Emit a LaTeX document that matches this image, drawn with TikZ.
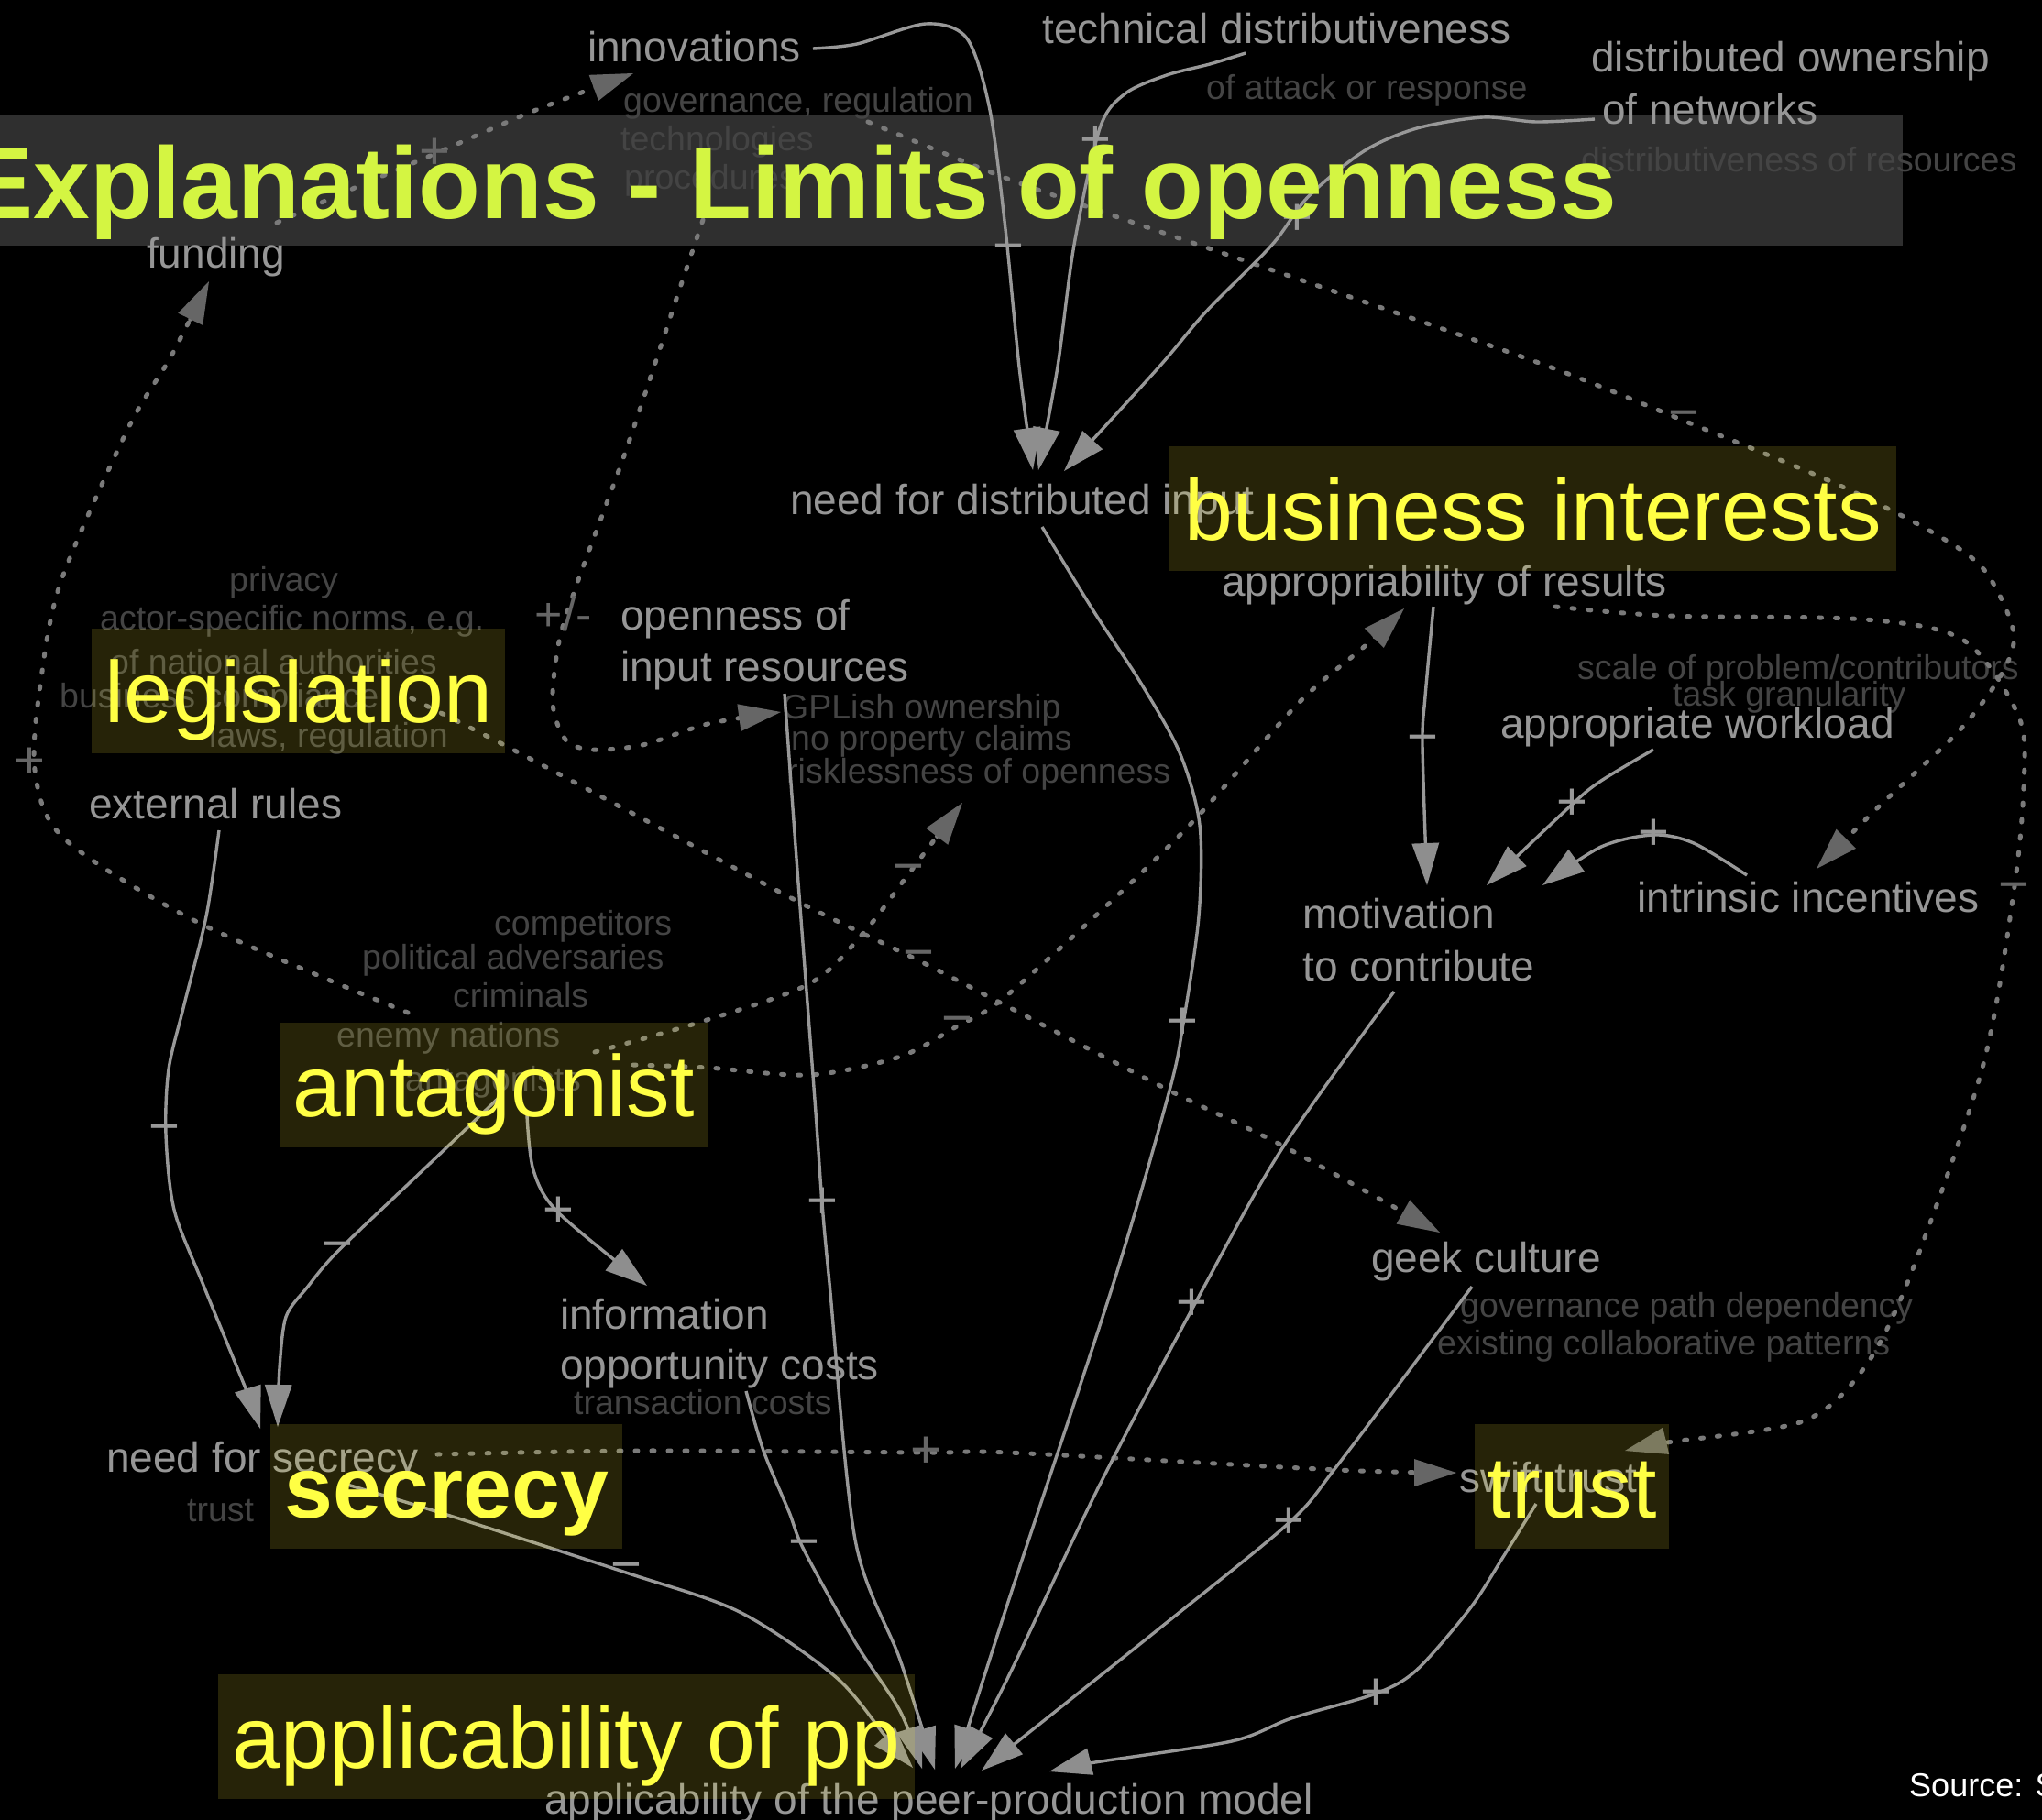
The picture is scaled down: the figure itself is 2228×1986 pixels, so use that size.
\documentclass[tikz,border=0pt]{standalone}
\usepackage{fontspec}
\setmainfont{Liberation Sans}
\usetikzlibrary{arrows.meta}
\definecolor{bandgray}{RGB}{47,47,47}
\definecolor{titlecol}{RGB}{212,245,66}
\definecolor{labelyellow}{RGB}{255,255,68}
\definecolor{boxyellow}{RGB}{255,240,60}
\definecolor{maingray}{RGB}{150,150,150}
\definecolor{notegray}{RGB}{68,68,68}
\definecolor{solidgray}{RGB}{152,152,152}
\definecolor{tipgray}{RGB}{142,142,142}
\definecolor{dashgray}{RGB}{122,122,122}
\definecolor{dashtip}{RGB}{102,102,102}
\begin{document}
\begin{tikzpicture}[x=1pt,y=-1pt,
  mainlbl/.style={anchor=base west, inner sep=0pt, text=maingray, font=\fontsize{46}{55}\selectfont},
  notelbl/.style={anchor=base west, inner sep=0pt, text=notegray, font=\fontsize{37.5}{45}\selectfont},
  bigbox/.style={anchor=base west, fill=boxyellow, fill opacity=0.15, text opacity=1, text=labelyellow, font=\fontsize{95}{110}\selectfont, text height=87pt, text depth=19pt, inner xsep=0pt, inner ysep=15pt},
  sline/.style={draw=solidgray, line width=3.4pt, -{Triangle[length=46pt,width=30pt,color=tipgray,line width=0pt]}},
  dline/.style={draw=dashgray, line width=5pt, line cap=round, dash pattern=on 3pt off 15pt, -{Triangle[length=46pt,width=30pt,color=dashtip,line width=0pt]}},
  smark/.style={inner sep=0pt, text=solidgray, font=\fontsize{58}{60}\selectfont},
  dmark/.style={inner sep=0pt, text=dashtip, font=\fontsize{58}{60}\selectfont},
]
\useasboundingbox (0,0) rectangle (2228,1986);
\fill[black] (0,0) rectangle (2228,1986);
\path[fill=bandgray] (0,125) rectangle (2076,268);

% ---------- notes ----------
\node[notelbl] (n-gov) at (680,122) {governance, regulation};
\node[notelbl] (n-tech) at (677,164) {technologies};
\node[notelbl] (n-proc) at (681,206) {procedures};
\node[notelbl] (n-attack) at (1316,108) {of attack or response};
\node[notelbl] (n-distres) at (1725,187) {distributiveness of resources};
\node[notelbl] (n-priv) at (250,645) {privacy};
\node[notelbl] (n-actor) at (109,687) {actor-specific norms, e.g.};
\node[notelbl] (n-natl) at (120,735) {of national authorities};
\node[notelbl] (n-busc) at (65,772) {business compliance};
\node[notelbl] (n-laws) at (228,815) {laws, regulation};
\node[notelbl] (n-gpl) at (853,784) {GPLish ownership};
\node[notelbl] (n-noprop) at (863,818) {no property claims};
\node[notelbl] (n-risk) at (858,854) {risklessness of openness};
\node[notelbl] (n-scale) at (1721,741) {scale of problem/contributors};
\node[notelbl] (n-task) at (1825,770) {task granularity};
\node[notelbl] (n-comp) at (539,1020) {competitors};
\node[notelbl] (n-pol) at (395,1057) {political adversaries};
\node[notelbl] (n-crim) at (494,1099) {criminals};
\node[notelbl] (n-enemy) at (367,1142) {enemy nations};
\node[notelbl] (n-antags) at (442,1190) {antagonists};
\node[notelbl] (n-govpath) at (1593,1437) {governance path dependency};
\node[notelbl] (n-exist) at (1568,1478) {existing collaborative patterns};
\node[notelbl] (n-trans) at (626,1543) {transaction costs};
\node[notelbl] (n-trust) at (204,1660) {trust};

% ---------- main gray nodes ----------
\node[mainlbl] (innovations) at (641,67) {innovations};
\node[mainlbl] (techdist) at (1137,47) {technical distributiveness};
\node[mainlbl] (distown1) at (1736,78) {distributed ownership};
\node[mainlbl] (distown2) at (1748,135) {of networks};
\node[mainlbl] (needdist) at (862,561) {need for distributed input};
\node[mainlbl] (open1) at (677,687) {openness of};
\node[mainlbl] (open2) at (677,743) {input resources};
\node[mainlbl] (approp) at (1333,650) {appropriability of results};
\node[mainlbl] (workload) at (1637,805) {appropriate workload};
\node[mainlbl] (intrinsic) at (1786,995) {intrinsic incentives};
\node[mainlbl] (motiv1) at (1421,1013) {motivation};
\node[mainlbl] (motiv2) at (1421,1070) {to contribute};
\node[mainlbl] (funding) at (160,292) {funding};
\node[mainlbl] (extrules) at (97,893) {external rules};
\node[mainlbl] (geek) at (1496,1388) {geek culture};
\node[mainlbl] (info1) at (611,1450) {information};
\node[mainlbl] (info2) at (611,1505) {opportunity costs};
\node[mainlbl] (needsec) at (116,1606) {need for secrecy};
\node[mainlbl] (swift) at (1592,1628) {swift trust};
\node[mainlbl] (applic) at (594,1979) {applicability of the peer-production model};

% ---------- connector end points ----------
\coordinate (innovations-out) at (887,53);
\coordinate (need-in1) at (1127,513);
\coordinate (tech-out) at (1359,58);
\coordinate (need-in2) at (1133,513);
\coordinate (own-out) at (1740,130);
\coordinate (need-in3) at (1161,514);
\coordinate (need-out) at (1137,575);
\coordinate (app-in4) at (1042,1930);
\coordinate (open-out) at (856,757);
\coordinate (app-in3) at (1020,1931);
\coordinate (info-out) at (814,1518);
\coordinate (app-in2) at (1006,1930);
\coordinate (secrecy-out) at (379,1620);
\coordinate (app-in1) at (996,1929);
\coordinate (motiv-out) at (1521,1082);
\coordinate (app-in5) at (1048,1930);
\coordinate (geek-out) at (1606,1404);
\coordinate (app-in6) at (1071,1932);
\coordinate (trust-out) at (1676,1641);
\coordinate (app-in7) at (1145,1933);
\coordinate (ext-out) at (239,906);
\coordinate (nfs-in1) at (284,1559);
\coordinate (antag-out1) at (544,1198);
\coordinate (nfs-in2) at (303,1557);
\coordinate (antag-out2) at (575,1217);
\coordinate (info-in) at (706,1403);
\coordinate (approp-out) at (1564,662);
\coordinate (motiv-in1) at (1557,966);
\coordinate (work-out) at (1804,818);
\coordinate (motiv-in2) at (1622,966);
\coordinate (intr-out) at (1906,955);
\coordinate (motiv-in3) at (1683,966);
\coordinate (funding-out) at (302,243);
\coordinate (innovations-in) at (691,80);
\coordinate (antag-out3) at (445,1105);
\coordinate (funding-in) at (228,307);
\coordinate (antag-out4) at (649,1148);
\coordinate (open-in2) at (1050,876);
\coordinate (antag-out5) at (691,1162);
\coordinate (approp-in) at (1532,664);
\coordinate (legis-out) at (449,762);
\coordinate (geek-in) at (1571,1345);
\coordinate (govnotes-out) at (947,133);
\coordinate (intr-in) at (1982,948);
\coordinate (approp-out2) at (1697,662);
\coordinate (swift-in1) at (1773,1583);
\coordinate (nfs-out) at (477,1587);
\coordinate (swift-in2) at (1589,1607);
\coordinate (proc-out) at (767,240);
\coordinate (open-in) at (852,777);

% ---------- dashed connectors ----------
\draw[dline] plot[smooth] coordinates {(funding-out) (380,208) (474,168) (580,122) (innovations-in)};
\draw[dline] plot[smooth] coordinates {(antag-out3) (217,1007) (70,915) (38,840) (45,740) (67,633) (140,467) (186,390) (funding-in)};
\draw[dline] plot[smooth] coordinates {(antag-out4) (765,1115) (884,1073) (943,1017) (991,954) (open-in2)};
\draw[dline] plot[smooth] coordinates {(antag-out5) (772,1165) (884,1173) (982,1153) (1044,1120) (1094,1090) (1213,983) (1303,895) (1417,767) (1488,706) (approp-in)};
\draw[dline] plot[smooth] coordinates {(legis-out) (554,815) (708,897) (877,987) (1002,1048) (1091,1094) (1276,1190) (1399,1250) (geek-in)};
\draw[dline] plot[smooth] coordinates {(govnotes-out) (1094,193) (1208,233) (1450,316) (1690,400) (1837,459) (1999,526) (2107,580) (2165,622) (2197,690) (2183,737) (2137,798) (2050,880) (intr-in)};
\draw[dline] plot[smooth] coordinates {(approp-out2) (1819,672) (2035,676) (2143,699) (2203,783) (2208,859) (2197,974) (2163,1165) (2083,1395) (2033,1494) (1967,1551) (1819,1574) (swift-in1)};
\draw[dline] plot[smooth] coordinates {(nfs-out) (700,1583) (1010,1585) (1100,1585) (1460,1604) (swift-in2)};
\draw[dline] plot[smooth] coordinates {(proc-out) (740,320) (716,393) (680,500) (631,633) (610,700) (603,767) (617,807) (645,818) (701,813) (772,790) (open-in)};

% ---------- solid connectors ----------
\draw[sline] plot[smooth] coordinates {(innovations-out) (935,48) (1010,26) (1055,42) (1080,120) (1097,250) (1112,400) (need-in1)};
\draw[sline] plot[smooth] coordinates {(tech-out) (1320,70) (1273,82) (1228,102) (1200,140) (1172,267) (1154,400) (need-in2)};
\draw[sline] plot[smooth] coordinates {(own-out) (1676,133) (1618,128) (1546,140) (1488,165) (1427,215) (1388,267) (1316,340) (1265,400) (need-in3)};
\draw[sline] plot[smooth] coordinates {(need-out) (1194,668) (1244,744) (1287,821) (1309,900) (1308,1000) (1291,1117) (1276,1190) (1215,1400) (1100,1748) (app-in4)};
\draw[sline] plot[smooth] coordinates {(open-out) (870,950) (889,1200) (897,1313) (905,1400) (933,1680) (982,1811) (app-in3)};
\draw[sline] plot[smooth] coordinates {(info-out) (833,1583) (861,1650) (877,1691) (933,1792) (982,1867) (app-in2)};
\draw[sline] plot[smooth] coordinates {(secrecy-out) (491,1654) (683,1716) (807,1759) (912,1830) (968,1897) (app-in1)};
\draw[sline] plot[smooth] coordinates {(motiv-out) (1399,1253) (1316,1400) (1200,1620) (1100,1830) (app-in5)};
\draw[sline] plot[smooth] coordinates {(geek-out) (1460,1598) (1406,1662) (1265,1777) (1107,1903) (app-in6)};
\draw[sline] plot[smooth] coordinates {(trust-out) (1640,1699) (1604,1755) (1546,1822) (1501,1848) (1409,1875) (1344,1900) (1195,1923) (app-in7)};
\draw[sline] plot[smooth] coordinates {(ext-out) (225,1000) (200,1100) (184,1167) (181,1238) (190,1320) (221,1400) (270,1520) (nfs-in1)};
\draw[sline] plot[smooth] coordinates {(antag-out1) (456,1282) (368,1366) (335,1405) (312,1437) (305,1493) (nfs-in2)};
\draw[sline] plot[smooth] coordinates {(antag-out2) (582,1277) (609,1323) (info-in)};
\draw[sline] plot[smooth] coordinates {(approp-out) (1555,760) (1552,813) (motiv-in1)};
\draw[sline] plot[smooth] coordinates {(work-out) (1747,852) (1715,878) (motiv-in2)};
\draw[sline] plot[smooth] coordinates {(intr-out) (1848,920) (1804,911) (1747,924) (motiv-in3)};

% ---------- signs ----------
\node[smark] (m1) at (1100,277) {−};
\node[smark] (m2) at (1195,155) {+};
\node[smark] (m3) at (1415,240) {+};
\node[smark] (m4) at (1290,1117) {+};
\node[smark] (m5) at (897,1313) {+};
\node[smark] (m6) at (877,1691) {−};
\node[smark] (m7) at (683,1716) {−};
\node[smark] (m8) at (1300,1424) {+};
\node[smark] (m9) at (1406,1662) {+};
\node[smark] (m10) at (1501,1849) {+};
\node[smark] (m11) at (179,1238) {−};
\node[smark] (m12) at (368,1366) {−};
\node[smark] (m13) at (609,1323) {+};
\node[smark] (m14) at (1552,813) {−};
\node[smark] (m15) at (1715,878) {+};
\node[smark] (m16) at (1804,911) {+};
\node[dmark] (d1) at (474,168) {+};
\node[dmark] (d2) at (32,833) {+};
\node[dmark] (d3) at (991,954) {−};
\node[dmark] (d4) at (1044,1120) {−};
\node[dmark] (d5) at (1002,1048) {−};
\node[dmark] (d6) at (1837,459) {−};
\node[dmark] (d7) at (2197,974) {−};
\node[dmark] (d8) at (1010,1585) {+};
\node[dmark, font=\fontsize{52}{56}\selectfont] (d9) at (615,670) {+/-};

% ---------- big labelled boxes ----------
\node[bigbox, minimum width=451pt] (legislation) at (100,788) {legislation};
\node[bigbox, minimum width=793pt] (business) at (1276,589) {business interests};
\node[bigbox, minimum width=467pt] (antagonist) at (305,1218) {antagonist};
\node[bigbox, minimum width=384pt, font=\fontsize{95}{110}\selectfont\bfseries] (secrecy) at (295,1656) {secrecy};
\node[bigbox, minimum width=212pt] (trust) at (1609,1656) {trust};
\node[bigbox, minimum width=760pt] (applpp) at (238,1929) {applicability of pp};

% ---------- title and source ----------
\node[anchor=base east, inner sep=0pt, text=titlecol, font=\fontsize{111}{130}\selectfont\bfseries] (title) at (1764,238) {Explanations - Limits of openness};
\node[anchor=base west, inner sep=0pt, text=white, font=\fontsize{36}{42}\selectfont] (source) at (2083,1960) {Source: S};
\end{tikzpicture}
\end{document}
